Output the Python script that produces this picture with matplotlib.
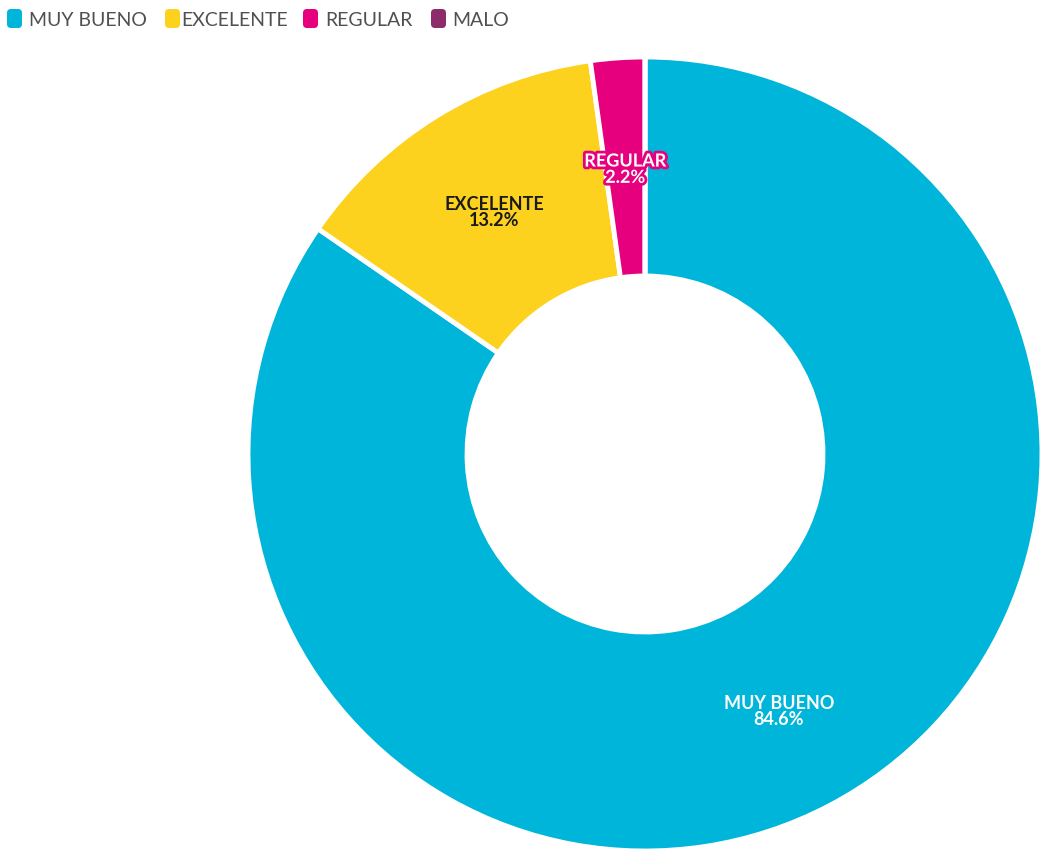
import matplotlib
matplotlib.use("Agg")
import numpy as np
import matplotlib.pyplot as plt
import matplotlib.patheffects as pe
import matplotlib.transforms as mtransforms
from matplotlib.patches import FancyBboxPatch

categories = ["MUY BUENO", "EXCELENTE", "REGULAR", "MALO"]
shares = [84.6, 13.2, 2.2, 0.0]
colors = ["#00B5DA", "#FDD21F", "#E6007E", "#8E2C6B"]
label_colors = ["white", "#1a1a1a", "white", "white"]

W, H = 1043, 854
fig = plt.figure(figsize=(W / 100, H / 100), dpi=100)
ax = fig.add_axes([0, 0, 1, 1])

cx, cy = 645, 455
r_out, r_in = 397, 178
width = r_out - r_in

wedges, _ = ax.pie(
    shares, colors=colors, startangle=90, counterclock=False,
    center=(cx, -cy), radius=r_out,
    wedgeprops=dict(width=width, edgecolor="white", linewidth=3.5, joinstyle="round"),
)
# pie works in y-up coords; flip the wedges into the inverted axes
flip = mtransforms.Affine2D().scale(1, -1) + ax.transData
for w in wedges:
    w.set_transform(flip)
ax.set_xlim(0, W)
ax.set_ylim(H, 0)
ax.set_aspect("equal")
ax.axis("off")

cum = 0.0
r_mid = (r_out + r_in) / 2
for name, v, tc, c in zip(categories, shares, label_colors, colors):
    if v <= 0:
        cum += v
        continue
    mid = (cum + v / 2) / 100 * 2 * np.pi
    cum += v
    x = cx + r_mid * np.sin(mid)
    y = cy - r_mid * np.cos(mid)
    effects = []
    if name == "REGULAR":
        effects = [pe.withStroke(linewidth=4, foreground=c)]
    ax.text(x, y + 2, f"{name}\n{v:.1f}%", ha="center", va="center",
            color=tc, fontsize=13, fontweight="bold", family="Lato",
            linespacing=0.95, path_effects=effects)

# legend row
leg_marker_x = [7, 165, 303, 431]
leg_text_x = [29, 181, 325, 452]
for name, c, mx, tx in zip(categories, colors, leg_marker_x, leg_text_x):
    ax.add_patch(FancyBboxPatch((mx + 2, 12), 11, 15,
                                boxstyle="round,pad=2,rounding_size=4",
                                fc=c, ec="none"))
    ax.text(tx, 20.5, name, ha="left", va="center", color="#505050",
            fontsize=14, family="Lato")

fig.savefig("out.png", dpi=100, facecolor="white")
